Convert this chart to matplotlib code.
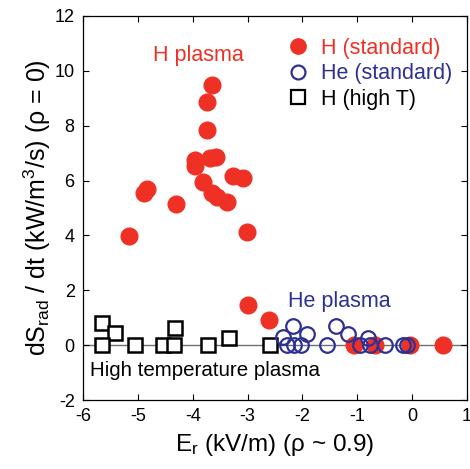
import numpy as np
import matplotlib
matplotlib.use('Agg')
import matplotlib.pyplot as plt
from matplotlib.lines import Line2D

plt.rcParams['font.family'] = ['Liberation Sans', 'DejaVu Sans']
plt.rcParams['mathtext.fontset'] = 'custom'
plt.rcParams['mathtext.rm'] = 'Liberation Sans'
plt.rcParams['mathtext.it'] = 'Liberation Sans'
plt.rcParams['axes.unicode_minus'] = False

RED = '#ee3124'
BLUE = '#2e3192'

# H (standard) -- filled red circles
h_er = [-5.16, -4.83, -4.88, -4.30, -3.65, -3.74, -3.74, -3.95, -3.96,
        -3.68, -3.58, -3.81, -3.65, -3.56, -3.38, -3.27, -3.08, -3.01,
        -2.99, -2.61, -1.06, -0.68, -0.03, 0.56]
h_ds = [3.97, 5.70, 5.55, 5.15, 9.48, 8.86, 7.84, 6.74, 6.53,
        6.82, 6.85, 5.94, 5.54, 5.40, 5.21, 6.16, 6.09, 4.12,
        1.46, 0.91, 0.0, 0.0, 0.0, 0.0]

# He (standard) -- open blue circles
he_er = [-2.17, -2.35, -1.92, -2.28, -2.15, -2.03, -1.55, -1.39, -1.17,
         -0.80, -0.95, -0.77, -0.50, -0.17, -0.10]
he_ds = [0.68, 0.30, 0.40, 0.0, 0.0, 0.0, 0.0, 0.70, 0.40,
         0.25, 0.0, 0.0, 0.0, 0.0, 0.0]

# H (high T) -- open black squares
ht_er = [-5.65, -5.42, -5.65, -5.05, -4.54, -4.34, -4.32, -3.72, -3.34, -2.59]
ht_ds = [0.80, 0.44, 0.0, 0.0, 0.0, 0.0, 0.62, 0.0, 0.25, 0.0]

fig = plt.figure(figsize=(4.70, 4.69), dpi=100)
ax = fig.add_axes([0.1766, 0.1471, 0.8170, 0.8188])

ax.axhline(0, color='#707070', lw=1.0, zorder=1)

ax.plot(ht_er, ht_ds, 's', ms=10.5, mfc='white', mec='black', mew=1.8, zorder=2)
ax.plot(h_er, h_ds, 'o', ms=12, color=RED, mec=RED, zorder=3)
ax.plot(he_er, he_ds, 'o', ms=10.5, mfc='none', mec=BLUE, mew=1.6, zorder=4)

ax.set_xlim(-6, 1)
ax.set_ylim(-2, 12)
ax.set_xticks(range(-6, 2))
ax.set_yticks(range(-2, 13, 2))
ax.tick_params(direction='in', top=True, right=True, length=4, width=0.8,
               labelsize=13, pad=6)
for s in ax.spines.values():
    s.set_linewidth(0.9)

ax.set_xlabel(r'E$_{\mathrm{r}}$ (kV/m) ($\rho$ ~ 0.9)', fontsize=17.5, labelpad=5)
ax.set_ylabel(r'dS$_{\mathrm{rad}}$ / dt (kW/m$^{3}$/s) ($\rho$ = 0)', fontsize=18, labelpad=1)

ax.text(-3.9, 10.55, 'H plasma', color=RED, fontsize=15.5, ha='center', va='center')
ax.text(-1.33, 1.6, 'He plasma', color=BLUE, fontsize=15.5, ha='center', va='center')
ax.text(-5.87, -0.91, 'High temperature plasma', color='black', fontsize=14.8,
        ha='left', va='center')

handles = [
    Line2D([], [], ls='none', marker='o', ms=11, color=RED, mec=RED),
    Line2D([], [], ls='none', marker='o', ms=10, mfc='none', mec=BLUE, mew=1.6),
    Line2D([], [], ls='none', marker='s', ms=10, mfc='none', mec='black', mew=1.6),
]
leg = ax.legend(handles, ['H (standard)', 'He (standard)', 'H (high T)'],
                loc='upper left', bbox_to_anchor=(287 / 470, 1 - 38 / 469),
                bbox_transform=fig.transFigure, frameon=False, fontsize=15.5,
                handletextpad=0.6, borderpad=0, borderaxespad=0,
                labelspacing=0.2, handlelength=1.0)
for t, c in zip(leg.get_texts(), [RED, BLUE, 'black']):
    t.set_color(c)

fig.savefig('out.png', dpi=100)
